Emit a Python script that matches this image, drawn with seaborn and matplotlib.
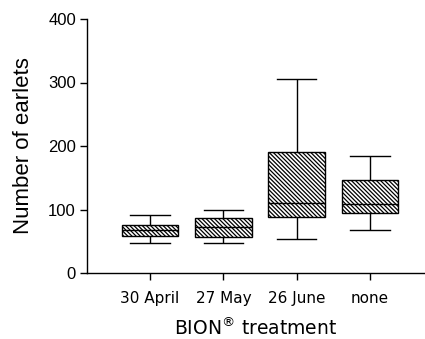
import matplotlib
matplotlib.use("Agg")
import matplotlib.pyplot as plt
import seaborn as sns
import pandas as pd
import numpy as np

# Five-number summaries: min, Q1, median, Q3, max
categories = ["30 April", "27 May", "26 June", "none"]
april_30 = [48, 59, 67, 75, 92]
may_27 = [48, 56, 73, 86, 99]
june_26 = [54, 88, 110, 190, 306]
none_vals = [67, 94, 108, 147, 185]
yticks = [0, 100, 200, 300, 400]

rows = []
for cat, vals in zip(categories, [april_30, may_27, june_26, none_vals]):
    for v in vals:
        rows.append({"treatment": cat, "earlets": v})
df = pd.DataFrame(rows)

plt.rcParams["mathtext.fontset"] = "dejavusans"
plt.rcParams["hatch.linewidth"] = 0.9

fig = plt.figure(figsize=(4.25, 3.39), dpi=100)
ax = fig.add_axes([87 / 425, 66 / 339, 338 / 425, 254 / 339])

box_width = 0.77
sns.boxplot(data=df, x="treatment", y="earlets", order=categories,
            whis=(0, 100), width=box_width, color="white", linecolor="black",
            linewidth=1.0, fill=True, ax=ax)

for p in ax.patches:
    p.set_hatch("\\" * 8)
    p.set_edgecolor("black")
    p.set_facecolor("white")

# widen caps
cap_w = 0.54
for ln in ax.lines:
    xd = np.asarray(ln.get_xdata(), dtype=float)
    yd = np.asarray(ln.get_ydata(), dtype=float)
    if len(xd) == 2 and yd[0] == yd[1]:
        ext = abs(xd[1] - xd[0])
        if ext < 0.7 * box_width:
            c = xd.mean()
            ln.set_xdata([c - cap_w / 2, c + cap_w / 2])

ax.set_xlim(-0.86, 3.75)
ax.set_ylim(0, 400)
ax.set_yticks(yticks)
ax.set_yticklabels([str(t) for t in yticks], fontsize=12, family="Liberation Sans")
ax.set_xticks(range(len(categories)))
ax.set_xticklabels(categories, fontsize=11, family="DejaVu Sans")

for s in ["top", "right"]:
    ax.spines[s].set_visible(False)
for s in ["left", "bottom"]:
    ax.spines[s].set_linewidth(1.0)
    ax.spines[s].set_color("black")

ax.tick_params(axis="y", length=5, width=1.0, pad=3, colors="black")
ax.tick_params(axis="x", length=5, width=1.0, pad=8, colors="black")

ax.set_ylabel("Number of earlets", fontsize=16, family="Liberation Sans", labelpad=10)
ax.set_xlabel("BION$^{®}$ treatment", fontsize=13.5, family="DejaVu Sans", labelpad=8)

fig.savefig("out.png", dpi=100)
